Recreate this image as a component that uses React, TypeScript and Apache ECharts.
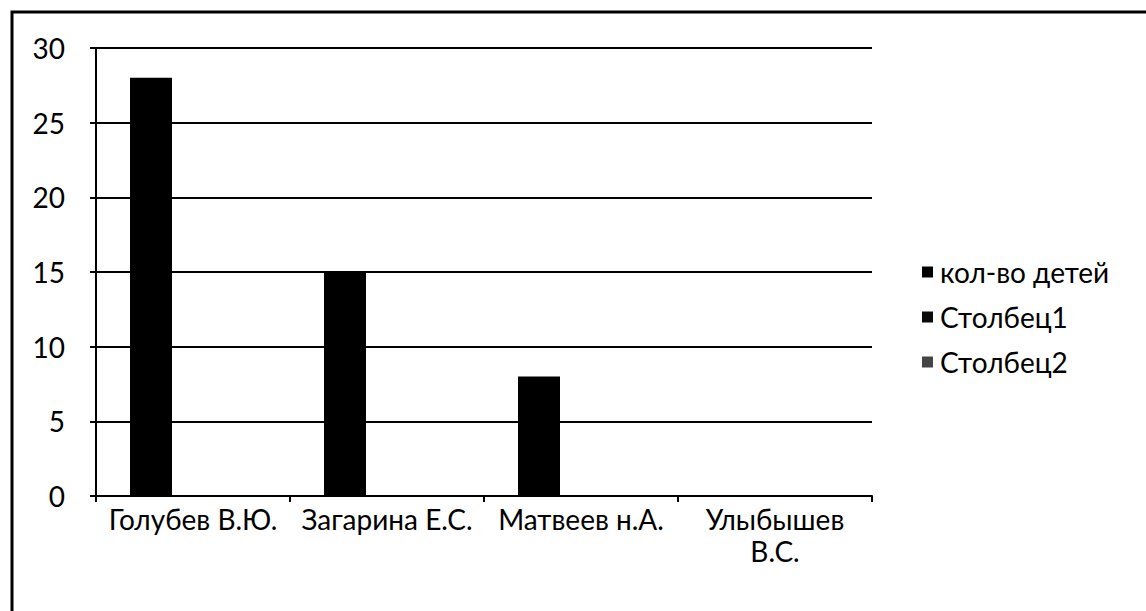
import React, { useEffect, useRef } from "react";
import * as echarts from "echarts";

const categories = ["Голубев В.Ю.", "Загарина Е.С.", "Матвеев н.А.", "Улыбышев\nВ.С."];
const seriesNames = ["кол-во детей", "Столбец1", "Столбец2"];
const kolvoDetei = [28, 15, 8, 0];
const stolbec1: (number | null)[] = [null, null, null, null];
const stolbec2: (number | null)[] = [null, null, null, null];
const yTicks = { min: 0, max: 30, interval: 5 };

export default function App() {
  const ref = useRef<HTMLDivElement>(null);
  useEffect(() => {
    if (!ref.current) return;
    const chart = echarts.init(ref.current, null, { renderer: "svg" });
    const font = "Lato, 'Open Sans', sans-serif";
    chart.setOption({
      animation: false,
      backgroundColor: "#ffffff",
      textStyle: { fontFamily: font },
      grid: { left: 96, right: 274, top: 48, bottom: 115, containLabel: false },
      legend: {
        orient: "vertical",
        left: 922,
        top: 257,
        padding: 0,
        itemWidth: 11,
        itemHeight: 11,
        itemGap: 15,
        icon: "rect",
        data: seriesNames,
        textStyle: { fontFamily: font, fontSize: 28, lineHeight: 30, color: "#000", padding: [0, 0, 0, 2] },
      },
      xAxis: {
        type: "category",
        data: categories,
        axisLine: { lineStyle: { color: "#000", width: 2 } },
        axisTick: { show: true, length: 6, lineStyle: { color: "#000", width: 2 } },
        axisLabel: { color: "#000", fontSize: 28, fontFamily: font, margin: 7, lineHeight: 32, interval: 0 },
        splitLine: { show: false },
      },
      yAxis: {
        type: "value",
        min: yTicks.min,
        max: yTicks.max,
        interval: yTicks.interval,
        axisLine: { show: true, lineStyle: { color: "#000", width: 2 } },
        axisTick: { show: true, length: 6, lineStyle: { color: "#000", width: 2 } },
        axisLabel: { color: "#000", fontSize: 28, fontFamily: font, margin: 31 },
        splitLine: { show: true, lineStyle: { color: "#000", width: 2 } },
      },
      series: [
        { name: seriesNames[0], type: "bar", data: kolvoDetei, barWidth: 42, barGap: "0%", itemStyle: { color: "#000" } },
        { name: seriesNames[1], type: "bar", data: stolbec1, barWidth: 42, barGap: "0%", itemStyle: { color: "#0a0a0a" } },
        { name: seriesNames[2], type: "bar", data: stolbec2, barWidth: 42, barGap: "0%", itemStyle: { color: "#444" } },
      ],
      graphic: [
        {
          type: "polyline",
          shape: { points: [[12, 611], [12, 12], [1146, 12]] },
          style: { stroke: "#000", lineWidth: 3, fill: null },
        },
      ],
    });
    return () => chart.dispose();
  }, []);
  return <div ref={ref} style={{ position: "fixed", left: 0, top: 0, width: 1146, height: 611 }} />;
}
